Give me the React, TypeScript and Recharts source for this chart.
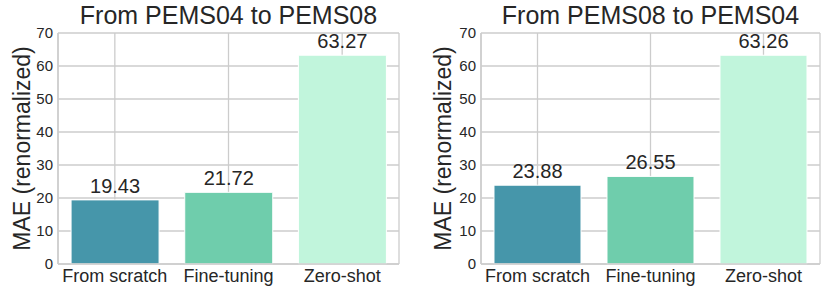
import React from "react"
import {
  BarChart,
  Bar,
  XAxis,
  YAxis,
  CartesianGrid,
  Cell,
  LabelList,
} from "recharts"

const categories = ["From scratch", "Fine-tuning", "Zero-shot"]
const pems04to08 = [19.43, 21.72, 63.27]
const pems08to04 = [23.88, 26.55, 63.26]
const barColors = ["#4696aa", "#6fcdac", "#c1f5dc"]
const yTicks = [0, 10, 20, 30, 40, 50, 60, 70]

const font = '"Liberation Sans", Arial, sans-serif'
const textColor = "#262626"
const gridColor = "#cccccc"

function YLabel({ viewBox, posX }: any) {
  const cy = viewBox.y + viewBox.height / 2
  return (
    <text
      x={posX}
      y={cy}
      transform={`rotate(-90 ${posX} ${cy})`}
      textAnchor="middle"
      dominantBaseline="central"
      fontSize={23}
      fill={textColor}
      fontFamily={font}
    >
      MAE (renormalized)
    </text>
  )
}

interface PanelProps {
  title: string
  values: number[]
  left: number
  width: number
  axisLeft: number
  axisRight: number
  labelX: number
}

function Panel({ title, values, left, width, axisLeft, axisRight, labelX }: PanelProps) {
  const data = categories.map((c, i) => ({ name: c, value: values[i] }))
  return (
    <div style={{ position: "absolute", left, top: 0, width, height: 293 }}>
      <div
        style={{
          position: "absolute",
          left: axisLeft,
          width: axisRight - axisLeft,
          top: 2,
          textAlign: "center",
          fontSize: 25,
          lineHeight: "26px",
          fontFamily: font,
          color: textColor,
          whiteSpace: "nowrap",
        }}
      >
        {title}
      </div>
      <BarChart
        width={width}
        height={293}
        data={data}
        margin={{ top: 33, right: width - axisRight, bottom: 0, left: 0 }}
        barCategoryGap="11.5%"
      >
        <CartesianGrid stroke={gridColor} strokeWidth={1.3} />
        <XAxis
          dataKey="name"
          tickSize={0}
          tickMargin={5}
          tickLine={false}
          axisLine={{ stroke: gridColor, strokeWidth: 1.5 }}
          tick={{ fontSize: 18, fill: textColor, fontFamily: font }}
          interval={0}
          height={29}
        />
        <XAxis
          xAxisId="top"
          dataKey="name"
          orientation="top"
          tick={false}
          tickLine={false}
          height={0}
          axisLine={{ stroke: gridColor, strokeWidth: 1.5 }}
        />
        <YAxis
          domain={[0, 70]}
          ticks={yTicks}
          width={axisLeft}
          tickSize={0}
          tickMargin={5}
          tickLine={false}
          axisLine={{ stroke: gridColor, strokeWidth: 1.5 }}
          tick={{ fontSize: 15, fill: textColor, fontFamily: font }}
          label={<YLabel posX={labelX} />}
        />
        <YAxis
          yAxisId="right"
          orientation="right"
          domain={[0, 70]}
          tick={false}
          tickLine={false}
          width={0}
          axisLine={{ stroke: gridColor, strokeWidth: 1.5 }}
        />
        <Bar dataKey="value" isAnimationActive={false} stroke="#ffffff" strokeWidth={1}>
          {data.map((d, i) => (
            <Cell key={d.name} fill={barColors[i]} />
          ))}
          <LabelList
            dataKey="value"
            position="top"
            offset={7}
            fontSize={20}
            fill={textColor}
            fontFamily={font}
            formatter={(v: any) => Number(v).toFixed(2)}
          />
        </Bar>
      </BarChart>
    </div>
  )
}

export default function App() {
  return (
    <div style={{ position: "relative", width: 831, height: 293, background: "#ffffff" }}>
      <style>{"body{margin:0}"}</style>
      <Panel
        title="From PEMS04 to PEMS08"
        values={pems04to08}
        left={0}
        width={415}
        axisLeft={58}
        axisRight={399}
        labelX={22}
      />
      <Panel
        title="From PEMS08 to PEMS04"
        values={pems08to04}
        left={415}
        width={416}
        axisLeft={66}
        axisRight={405}
        labelX={28}
      />
    </div>
  )
}
